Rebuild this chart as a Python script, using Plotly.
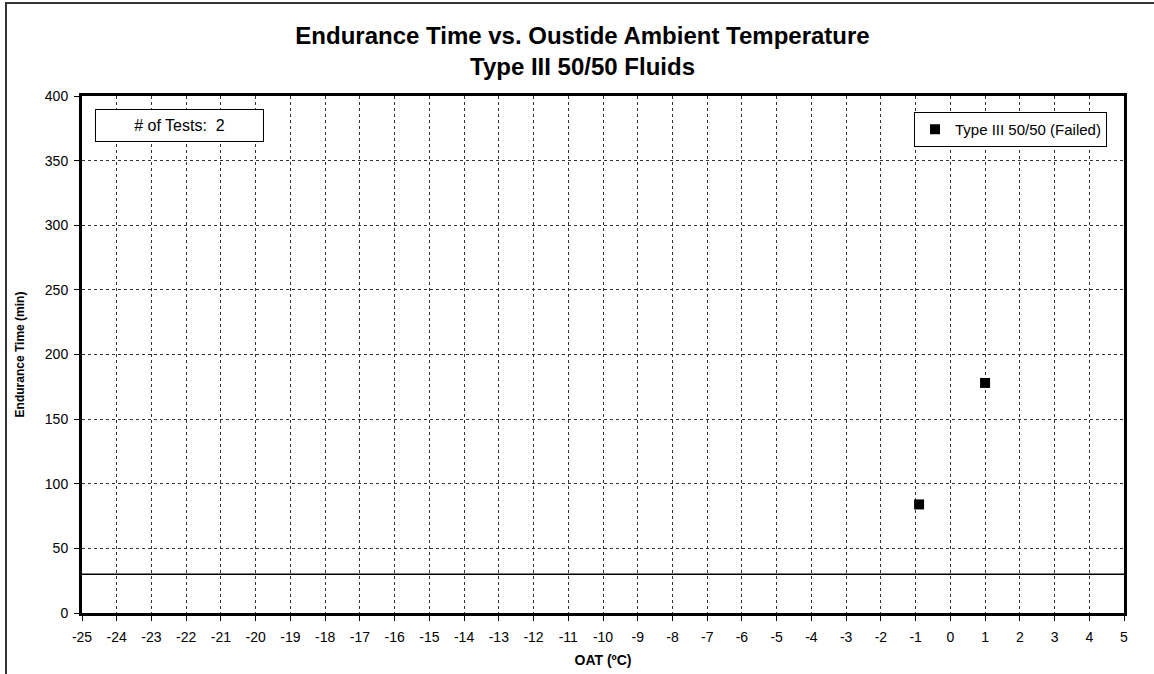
import plotly.graph_objects as go

# Data
oat_failed = [-0.9, 1.0]
endurance_failed = [84, 178]
series_name = "Type III 50/50 (Failed)"
reference_line_min = 30
num_tests = 2
x_ticks = list(range(-25, 6))
y_ticks = list(range(0, 401, 50))

FONT = "Liberation Sans, Arial, sans-serif"

fig = go.Figure()
fig.add_trace(go.Scatter(
    x=oat_failed, y=endurance_failed, mode="markers", name=series_name,
    marker=dict(symbol="square", size=10, color="black"),
))

fig.add_shape(type="line", xref="paper", x0=0, x1=1, yref="y",
              y0=reference_line_min, y1=reference_line_min,
              line=dict(color="black", width=1.5))

# outer chart frame
fig.add_shape(type="rect", xref="paper", yref="paper",
              x0=(6 - 82) / 1042, x1=(1200 - 82) / 1042,
              y0=(613 - 700) / 517, y1=(613 - 3) / 517,
              line=dict(color="#333333", width=2), layer="below")

fig.add_annotation(xref="paper", yref="paper",
                   x=(179.5 - 82) / 1042, y=(613 - 125.5) / 517,
                   xanchor="center", yanchor="middle",
                   text=f"# of Tests:&nbsp; {num_tests}", showarrow=False,
                   width=165, height=29, bordercolor="black", borderwidth=1,
                   bgcolor="white", font=dict(size=16, color="black", family=FONT))

fig.update_layout(
    width=1154, height=674,
    margin=dict(l=82, r=30, t=96, b=61),
    paper_bgcolor="white", plot_bgcolor="white",
    font=dict(family=FONT, color="black", size=14),
    title=dict(text="<b>Endurance Time vs. Oustide Ambient Temperature<br>Type III 50/50 Fluids</b>",
               x=582.5 / 1154, xanchor="center", yref="container", y=1 - 44 / 674, yanchor="middle",
               font=dict(size=24, family=FONT, color="black")),
    showlegend=True,
    legend=dict(x=(914 - 82) / 1042, y=(613 - 112) / 517, xanchor="left", yanchor="top",
                bordercolor="black", borderwidth=1, bgcolor="white",
                font=dict(size=15, family=FONT), itemwidth=30,
                tracegroupgap=0),
)

fig.update_xaxes(
    range=[-25, 5], tickvals=x_ticks, ticktext=[str(v) for v in x_ticks],
    showgrid=True, gridcolor="#333333", griddash="dot", gridwidth=1,
    showline=True, linecolor="black", linewidth=3, mirror=True,
    ticks="outside", ticklen=5, tickcolor="black", zeroline=False,
    ticklabelstandoff=4, automargin=False,
    title=dict(text="<b>OAT (ºC)</b>", font=dict(size=14, family=FONT), standoff=12),
    tickfont=dict(size=14),
)
fig.update_yaxes(
    range=[0, 400], tickvals=y_ticks,
    showgrid=True, gridcolor="#333333", griddash="dot", gridwidth=1,
    showline=True, linecolor="black", linewidth=3, mirror=True,
    ticks="outside", ticklen=5, tickcolor="black", zeroline=False,
    ticklabelstandoff=3, automargin=False,
    title=dict(text="<b>Endurance Time (min)</b>", font=dict(size=12, family=FONT), standoff=18),
    tickfont=dict(size=14),
)

fig.write_html("out.html")
